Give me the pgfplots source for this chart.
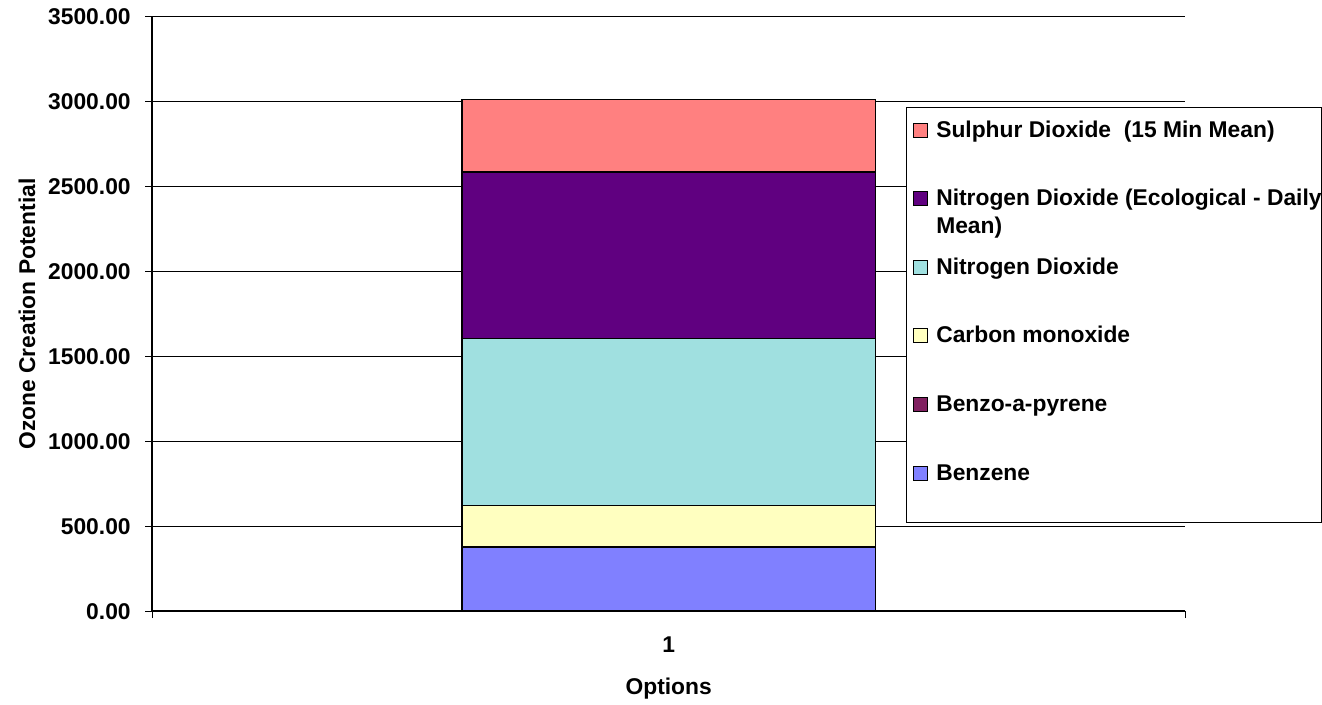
\documentclass[border=0pt]{standalone}
\usepackage{pgfplots}
\pgfplotsset{compat=1.18}
\usepackage{fontspec}
\setmainfont{Liberation Sans}
\definecolor{benzene}{HTML}{8080FF}
\definecolor{bap}{HTML}{802060}
\definecolor{co}{HTML}{FFFFC0}
\definecolor{notwo}{HTML}{A0E0E0}
\definecolor{notwoeco}{HTML}{600080}
\definecolor{sotwo}{HTML}{FF8080}
\begin{document}
\fontsize{11.4}{14}\selectfont\bfseries
\begin{tikzpicture}
\useasboundingbox (-76pt,-46.5pt) rectangle (584.8pt,305.5pt);
\begin{axis}[
  at={(0pt,0pt)}, anchor=south west,
  scale only axis, width=516.5pt, height=297pt,
  clip=false,
  ybar stacked, bar width=206.6pt,
  xmin=0.5, xmax=1.5, ymin=0, ymax=3500,
  axis x line*=bottom, axis y line*=left,
  axis line style={line width=0.75pt, -},
  tick align=outside, major tick length=3.5pt,
  tick style={black, line width=0.5pt},
  xtick={0.5,1.5}, xticklabels={},
  extra x ticks={1}, extra x tick labels={1},
  extra x tick style={major tick length=0pt,
    xticklabel style={anchor=base, inner sep=0pt, yshift=-20.5pt}},
  ytick={0,500,...,3500},
  ymajorgrids, grid style={black, line width=0.5pt},
  /pgf/number format/.cd, fixed, fixed zerofill, precision=2, 1000 sep={}, assume math mode=true,
  /pgfplots/.cd,
  yticklabel style={anchor=east, inner sep=0pt, xshift=-7pt},
  ylabel={Ozone Creation Potential},
  ylabel style={at={(axis description cs:-0.121,0.5)}, anchor=center, inner sep=0pt},
  xlabel={Options},
  xlabel style={at={(axis description cs:0.5,0)}, anchor=base, inner sep=0pt, yshift=-41.5pt},
  reverse legend,
  legend image code/.code={\draw[#1, draw=black, line width=0.5pt] (0pt,0pt) rectangle (7pt,7pt);},
  legend style={draw=none, fill=none, at={(0.73669,0.84512)}, anchor=north west,
    inner sep=0pt, outer sep=0pt, row sep=0pt, column sep=4pt,
    nodes={inner sep=0pt, text height=14pt, text depth=20.3pt},
    cells={anchor=base west}},
]
% stacked contributions, bottom to top
\addplot[fill=benzene, draw=black, line width=0.75pt] coordinates {(1,378)};
\addlegendentry{Benzene}
\addplot[fill=bap, draw=black, line width=0.75pt] coordinates {(1,0)};
\addlegendentry{Benzo-a-pyrene}
\addplot[fill=co, draw=black, line width=0.75pt] coordinates {(1,244)};
\addlegendentry{Carbon monoxide}
\addplot[fill=notwo, draw=black, line width=0.75pt] coordinates {(1,983)};
\addlegendentry{Nitrogen Dioxide}
\addplot[fill=notwoeco, draw=black, line width=0.75pt] coordinates {(1,981)};
\addlegendentry{\vtop{\hbox{Nitrogen Dioxide (Ecological - Daily}\hbox{Mean)}}}
\addplot[fill=sotwo, draw=black, line width=0.75pt] coordinates {(1,428)};
\addlegendentry{Sulphur Dioxide\ \ (15 Min Mean)}
% legend frame
\draw[black, line width=0.5pt, fill=white]
  (rel axis cs:0.72991,0.14983) rectangle (rel axis cs:1.13166,0.84848);
\end{axis}
\end{tikzpicture}
\end{document}
